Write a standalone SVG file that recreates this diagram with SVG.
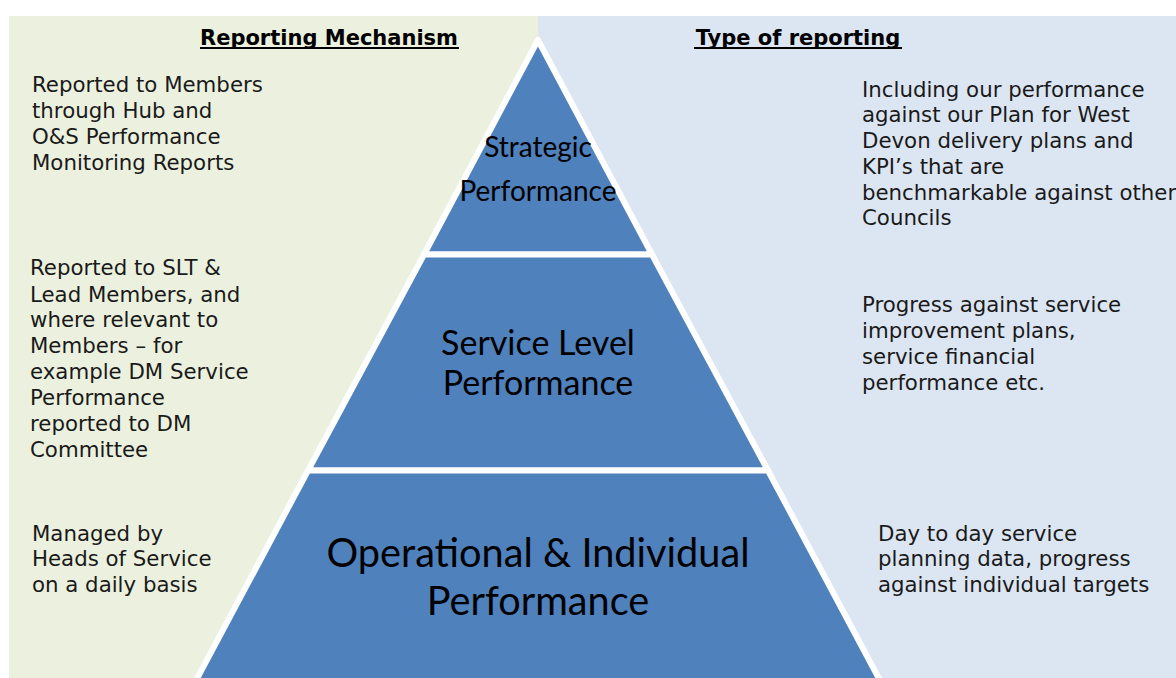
<svg xmlns="http://www.w3.org/2000/svg" width="1176" height="678" viewBox="0 0 1176 678">
<style>
.side{font-family:"DejaVu Sans","Verdana",sans-serif;font-size:21.3px;fill:#1a1a1a}
.head{font-family:"DejaVu Sans","Verdana",sans-serif;font-size:21px;font-weight:bold;fill:#000}
.tier{fill:#4F81BD;stroke:#fff;stroke-width:6;stroke-linejoin:round}
.lbl{font-family:"Lato","Open Sans",sans-serif;fill:#000;text-anchor:middle}
</style>
<rect width="1176" height="678" fill="#fff"/>
<rect id="left-panel" x="9" y="16" width="529" height="662" fill="#EBF1DE"/>
<rect id="right-panel" x="538" y="16" width="638" height="662" fill="#DCE6F2"/>
<g id="headings">
<text class="head" x="329" y="45" text-anchor="middle">Reporting Mechanism</text>
<line x1="200" y1="48" x2="459" y2="48" stroke="#000" stroke-width="2"/>
<text class="head" x="798" y="45" text-anchor="middle">Type of reporting</text>
<line x1="694" y1="48" x2="902" y2="48" stroke="#000" stroke-width="2"/>
</g>
<g id="tier-strategic">
<polygon class="tier" points="538,40 424,254.5 652,254.5"/>
<text class="lbl" font-size="28" x="538" y="157">Strategic</text>
<text class="lbl" font-size="28" x="538" y="201">Performance</text>
</g>
<g id="tier-service">
<polygon class="tier" points="424,254.5 652,254.5 768,470.5 308,470.5"/>
<text class="lbl" font-size="34" x="538" y="355">Service Level</text>
<text class="lbl" font-size="34" x="538" y="395">Performance</text>
</g>
<g id="tier-operational">
<polygon class="tier" points="308,470.5 768,470.5 884,688 192,688"/>
<text class="lbl" font-size="39.7" x="538" y="567">Operational &amp; Individual</text>
<text class="lbl" font-size="39.7" x="538" y="615">Performance</text>
</g>
<g id="connectors"></g>
<g id="left-1">
<text class="side" x="32" y="92">Reported to Members</text>
<text class="side" x="32" y="118">through Hub and</text>
<text class="side" x="32" y="144">O&amp;S Performance</text>
<text class="side" x="32" y="170">Monitoring Reports</text>
</g>
<g id="left-2">
<text class="side" x="30" y="275">Reported to SLT &amp;</text>
<text class="side" x="30" y="302">Lead Members, and</text>
<text class="side" x="30" y="327">where relevant to</text>
<text class="side" x="30" y="353">Members – for</text>
<text class="side" x="30" y="379">example DM Service</text>
<text class="side" x="30" y="405">Performance</text>
<text class="side" x="30" y="431">reported to DM</text>
<text class="side" x="30" y="457">Committee</text>
</g>
<g id="left-3">
<text class="side" x="32" y="541">Managed by</text>
<text class="side" x="32" y="566">Heads of Service</text>
<text class="side" x="32" y="592">on a daily basis</text>
</g>
<g id="right-1">
<text class="side" x="862" y="97">Including our performance</text>
<text class="side" x="862" y="122">against our Plan for West</text>
<text class="side" x="862" y="148">Devon delivery plans and</text>
<text class="side" x="862" y="174">KPI’s that are</text>
<text class="side" x="862" y="200">benchmarkable against other</text>
<text class="side" x="862" y="225">Councils</text>
</g>
<g id="right-2">
<text class="side" x="862" y="312">Progress against service</text>
<text class="side" x="862" y="338">improvement plans,</text>
<text class="side" x="862" y="364">service financial</text>
<text class="side" x="862" y="390">performance etc.</text>
</g>
<g id="right-3">
<text class="side" x="878" y="541">Day to day service</text>
<text class="side" x="878" y="566">planning data, progress</text>
<text class="side" x="878" y="592">against individual targets</text>
</g>
</svg>
